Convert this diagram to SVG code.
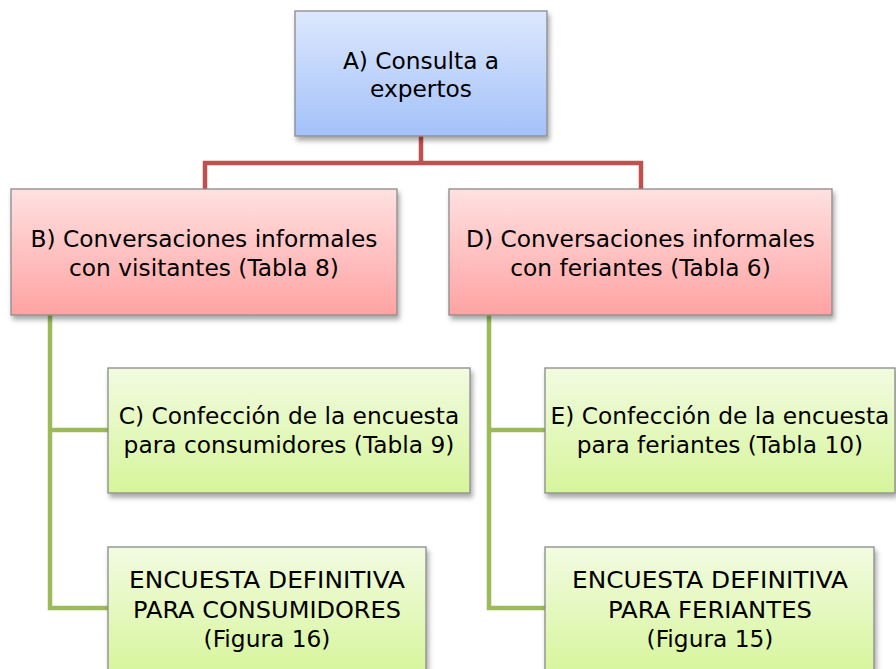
<svg xmlns="http://www.w3.org/2000/svg" width="896" height="669" viewBox="0 0 896 669">
<defs>
<linearGradient id="gBlue" x1="0" y1="0" x2="0" y2="1"><stop offset="0" stop-color="#dde8fd"/><stop offset="1" stop-color="#a3c1f9"/></linearGradient>
<linearGradient id="gRed" x1="0" y1="0" x2="0" y2="1"><stop offset="0" stop-color="#ffe1e1"/><stop offset="1" stop-color="#ffa2a2"/></linearGradient>
<linearGradient id="gGreen" x1="0" y1="0" x2="0" y2="1"><stop offset="0" stop-color="#f2fbe1"/><stop offset="1" stop-color="#d6f59a"/></linearGradient>
<filter id="sh" x="-10%" y="-10%" width="120%" height="130%"><feDropShadow dx="2" dy="4" stdDeviation="2.5" flood-color="#000" flood-opacity="0.35"/></filter>
</defs>
<style>
.box{stroke:#8a8a8a;stroke-width:1.3;filter:url(#sh)}
.b{fill:url(#gBlue)}.r{fill:url(#gRed)}.g{fill:url(#gGreen)}
text{font-family:"DejaVu Sans","Liberation Sans",sans-serif;font-size:23.3px;fill:#000;text-anchor:middle}
.cr{fill:none;stroke:#c0504d;stroke-width:4.5;stroke-linejoin:miter}
.cg{fill:none;stroke:#9bbb59;stroke-width:4.5;stroke-linejoin:miter}
</style>
<rect width="896" height="669" fill="#fff"/>
<g id="connectors">
<path class="cr" d="M421 136 V163 M205 189 V163 H641 V189"/>
<path class="cg" d="M50 315 V608 H108 M50 430 H108"/>
<path class="cg" d="M489 315 V608 H545 M489 430 H545"/>
</g>
<g id="A"><rect class="box b" x="295" y="11" width="252" height="125"/>
<text x="421" y="69">A) Consulta a</text><text x="421" y="97">expertos</text></g>
<g id="B"><rect class="box r" x="11" y="189" width="386" height="126"/>
<text x="204" y="247">B) Conversaciones informales</text><text x="204" y="276">con visitantes (Tabla 8)</text></g>
<g id="D"><rect class="box r" x="449" y="189" width="383" height="126"/>
<text x="640.5" y="247">D) Conversaciones informales</text><text x="640.5" y="276">con feriantes (Tabla 6)</text></g>
<g id="C"><rect class="box g" x="108" y="368" width="362" height="125"/>
<text x="289" y="424">C) Confección de la encuesta</text><text x="289" y="453">para consumidores (Tabla 9)</text></g>
<g id="E"><rect class="box g" x="545" y="368" width="350" height="125"/>
<text x="720" y="424">E) Confección de la encuesta</text><text x="720" y="453">para feriantes (Tabla 10)</text></g>
<g id="F16"><rect class="box g" x="108" y="547" width="318" height="130"/>
<text x="267" y="588" textLength="276" lengthAdjust="spacingAndGlyphs">ENCUESTA DEFINITIVA</text><text x="267" y="618" textLength="268" lengthAdjust="spacingAndGlyphs">PARA CONSUMIDORES</text><text x="267" y="647">(Figura 16)</text></g>
<g id="F15"><rect class="box g" x="545" y="547" width="329" height="130"/>
<text x="710" y="588" textLength="276" lengthAdjust="spacingAndGlyphs">ENCUESTA DEFINITIVA</text><text x="710" y="618" textLength="204" lengthAdjust="spacingAndGlyphs">PARA FERIANTES</text><text x="710" y="647">(Figura 15)</text></g>
</svg>
